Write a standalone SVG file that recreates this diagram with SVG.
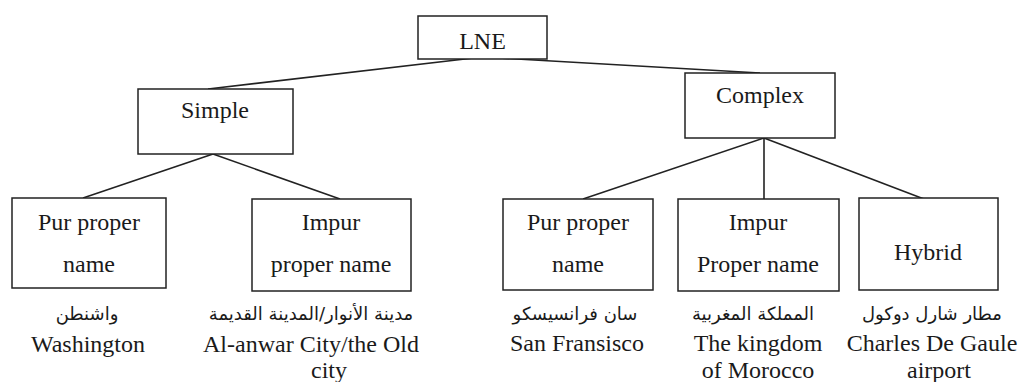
<svg xmlns="http://www.w3.org/2000/svg" width="1022" height="382" viewBox="0 0 1022 382">
<style>
.box{fill:#fff;stroke:#222;stroke-width:1.5}
.t{font-family:'Liberation Serif','Times New Roman',serif;font-size:24px;fill:#1a1a1a;text-anchor:middle}
.ar{font-family:'DejaVu Sans',sans-serif;font-size:18px;fill:#1a1a1a;text-anchor:middle}
.c{stroke:#222;stroke-width:1.6;fill:none}
</style>
<rect width="1022" height="382" fill="#fff"/>
<g id="connectors">
<path class="c" d="M482 57 L208 89"/>
<path class="c" d="M482 57 L760 73"/>
<path class="c" d="M213 154 L83 198"/>
<path class="c" d="M213 154 L340 199"/>
<path class="c" d="M764 138 L583 199"/>
<path class="c" d="M764 138 L764 199"/>
<path class="c" d="M764 138 L924 199"/>
</g>
<g id="lne"><rect class="box" x="418" y="16" width="129" height="43"/><text class="t" x="482.5" y="49">LNE</text></g>
<g id="simple"><rect class="box" x="138" y="89" width="155" height="65"/><text class="t" x="215" y="118">Simple</text></g>
<g id="complex"><rect class="box" x="685" y="73" width="150" height="65"/><text class="t" x="760" y="103">Complex</text></g>
<g id="pur-left"><rect class="box" x="12" y="198" width="154" height="90"/><text class="t" x="89" y="230">Pur proper</text><text class="t" x="89" y="272">name</text></g>
<g id="impur-left"><rect class="box" x="252" y="199" width="159" height="92"/><text class="t" x="331" y="230">Impur</text><text class="t" x="331" y="272">proper name</text></g>
<g id="pur-right"><rect class="box" x="503" y="199" width="150" height="91"/><text class="t" x="578" y="230">Pur proper</text><text class="t" x="578" y="272">name</text></g>
<g id="impur-right"><rect class="box" x="678" y="199" width="161" height="92"/><text class="t" x="758" y="230">Impur</text><text class="t" x="758" y="272">Proper name</text></g>
<g id="hybrid"><rect class="box" x="859" y="198" width="139" height="92"/><text class="t" x="928" y="260">Hybrid</text></g>
<g id="examples">
<text class="ar" x="87" y="320">واشنطن</text>
<text class="t" x="88" y="352">Washington</text>
<text class="ar" x="311" y="320">مدينة الأنوار/المدينة القديمة</text>
<text class="t" x="311" y="352">Al-anwar City/the Old</text>
<text class="t" x="329" y="378">city</text>
<text class="ar" x="575" y="320">سان فرانسيسكو</text>
<text class="t" x="577" y="351">San Fransisco</text>
<text class="ar" x="753" y="320">المملكة المغربية</text>
<text class="t" x="758" y="351">The kingdom</text>
<text class="t" x="758" y="378">of Morocco</text>
<text class="ar" x="932" y="320">مطار شارل دوكول</text>
<text class="t" x="932" y="351">Charles De Gaule</text>
<text class="t" x="939" y="378">airport</text>
</g>
</svg>
